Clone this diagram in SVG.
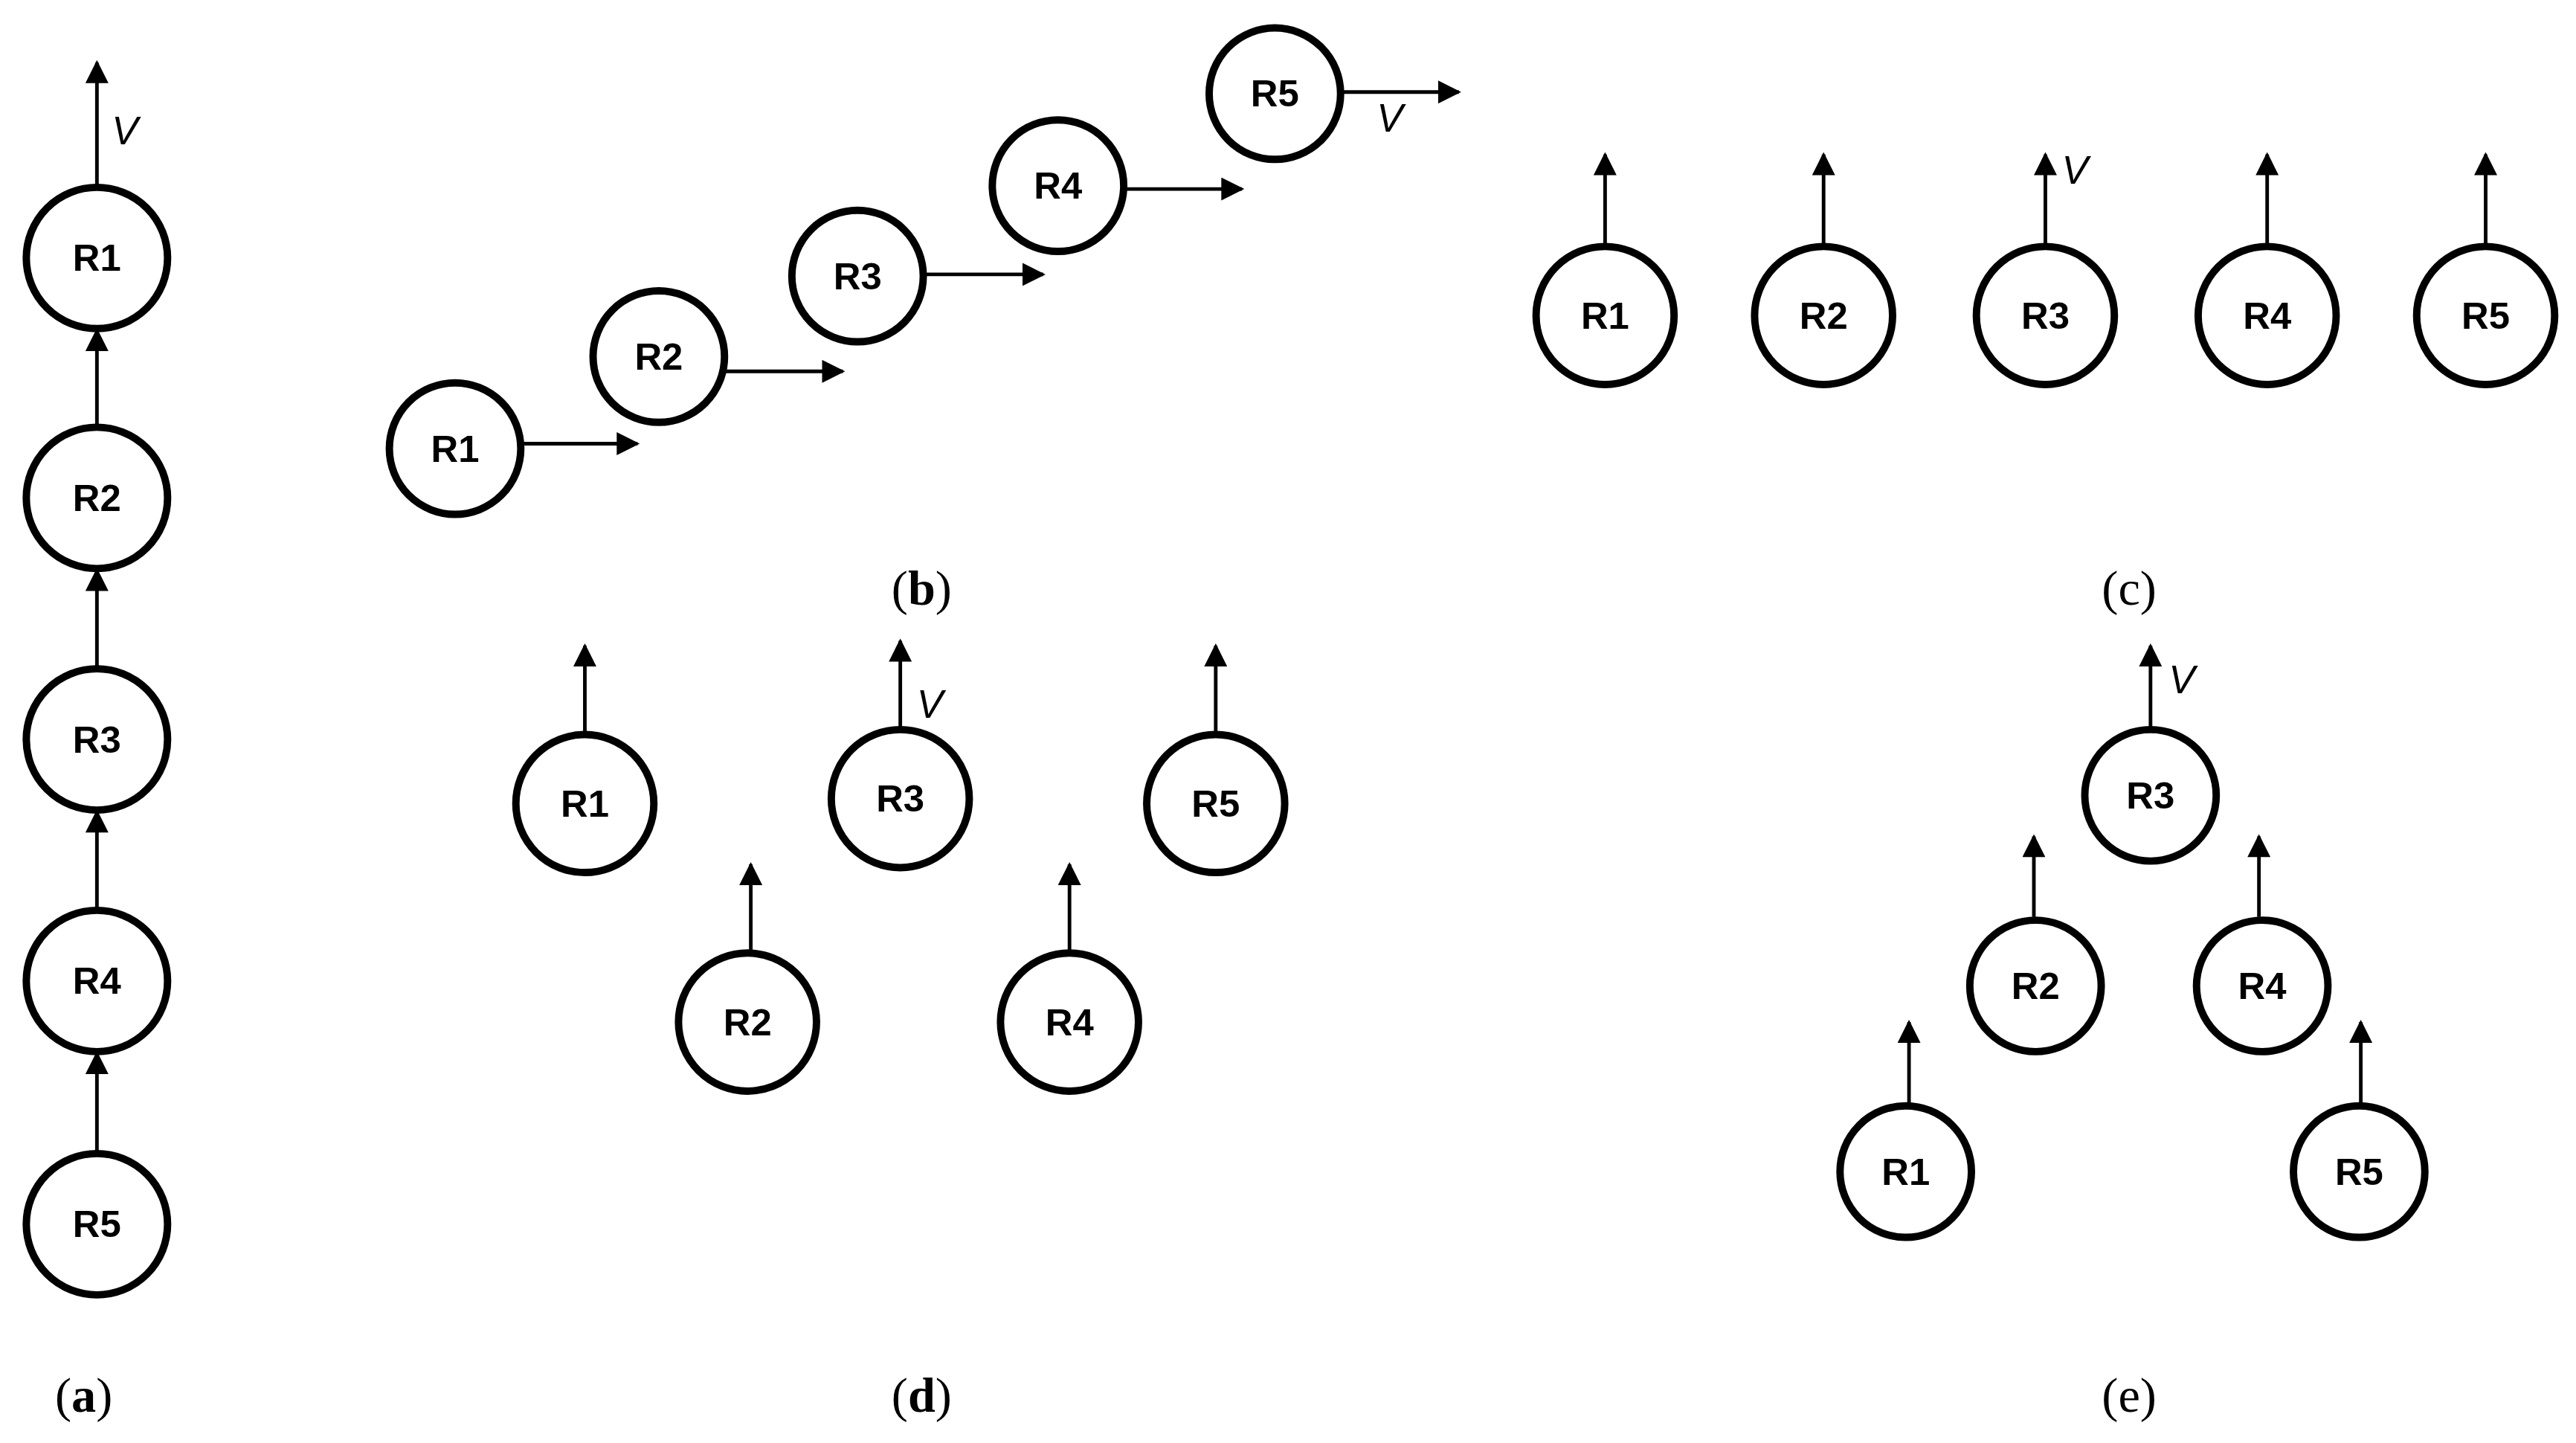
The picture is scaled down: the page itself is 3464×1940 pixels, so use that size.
<svg xmlns="http://www.w3.org/2000/svg" width="3464" height="1940" viewBox="0 0 3464 1940">
<style>
.n circle{fill:#fff;stroke:#000;stroke-width:4.5}
.n text{font-family:"Liberation Sans",Arial,sans-serif;font-weight:bold;font-size:23px;text-anchor:middle;dominant-baseline:central}
.c line{stroke:#000;stroke-width:2.2;marker-end:url(#ah)}
.v{font-family:"Liberation Sans",Arial,sans-serif;font-style:italic;font-size:24px}
.lb{font-family:"Liberation Serif","Times New Roman",serif;font-size:30px;text-anchor:middle}
</style>
<defs><marker id="ah" markerWidth="8" markerHeight="8" refX="7" refY="4" orient="auto" markerUnits="userSpaceOnUse" viewBox="0 0 8 8"><path d="M0,0L8,4L0,8z" fill="#000"/></marker>
<marker id="ah2" viewBox="0 0 10 10" refX="9" refY="5" markerWidth="16" markerHeight="14" orient="auto" markerUnits="userSpaceOnUse"><path d="M0,0L10,5L0,10z"/></marker></defs>
<rect width="3464" height="1940" fill="#fff"/>
<g transform="scale(2.2092)">
<g class="c" id="connectors" style="--x:0">
<g style="marker-end:none">
<line x1="59" y1="113" x2="59" y2="38" style="marker-end:url(#ah2)"/>
<line x1="59" y1="260" x2="59" y2="201" style="marker-end:url(#ah2)"/>
<line x1="59" y1="407" x2="59" y2="347" style="marker-end:url(#ah2)"/>
<line x1="59" y1="554" x2="59" y2="494" style="marker-end:url(#ah2)"/>
<line x1="59" y1="702" x2="59" y2="641" style="marker-end:url(#ah2)"/>
<line x1="317" y1="270" x2="388" y2="270" style="marker-end:url(#ah2)"/>
<line x1="441" y1="226" x2="513" y2="226" style="marker-end:url(#ah2)"/>
<line x1="562" y1="167" x2="635" y2="167" style="marker-end:url(#ah2)"/>
<line x1="684" y1="115" x2="756" y2="115" style="marker-end:url(#ah2)"/>
<line x1="816" y1="56" x2="888" y2="56" style="marker-end:url(#ah2)"/>
<line x1="977" y1="150" x2="977" y2="94" style="marker-end:url(#ah2)"/>
<line x1="1110" y1="150" x2="1110" y2="94" style="marker-end:url(#ah2)"/>
<line x1="1245" y1="150" x2="1245" y2="94" style="marker-end:url(#ah2)"/>
<line x1="1380" y1="150" x2="1380" y2="94" style="marker-end:url(#ah2)"/>
<line x1="1513" y1="150" x2="1513" y2="94" style="marker-end:url(#ah2)"/>
<line x1="356" y1="447" x2="356" y2="393" style="marker-end:url(#ah2)"/>
<line x1="548" y1="444" x2="548" y2="390" style="marker-end:url(#ah2)"/>
<line x1="740" y1="447" x2="740" y2="393" style="marker-end:url(#ah2)"/>
<line x1="457" y1="580" x2="457" y2="526" style="marker-end:url(#ah2)"/>
<line x1="651" y1="580" x2="651" y2="526" style="marker-end:url(#ah2)"/>
<line x1="1309" y1="443" x2="1309" y2="393" style="marker-end:url(#ah2)"/>
<line x1="1238" y1="558" x2="1238" y2="509" style="marker-end:url(#ah2)"/>
<line x1="1375" y1="558" x2="1375" y2="509" style="marker-end:url(#ah2)"/>
<line x1="1162" y1="672" x2="1162" y2="622" style="marker-end:url(#ah2)"/>
<line x1="1437" y1="672" x2="1437" y2="622" style="marker-end:url(#ah2)"/>
</g>
</g>
<g class="n" id="a1"><circle cx="59" cy="157" r="43"/><text x="59" y="157">R1</text></g>
<g class="n" id="a2"><circle cx="59" cy="303" r="43"/><text x="59" y="303">R2</text></g>
<g class="n" id="a3"><circle cx="59" cy="450" r="43"/><text x="59" y="450">R3</text></g>
<g class="n" id="a4"><circle cx="59" cy="597" r="43"/><text x="59" y="597">R4</text></g>
<g class="n" id="a5"><circle cx="59" cy="745" r="43"/><text x="59" y="745">R5</text></g>
<g class="n" id="b1"><circle cx="277" cy="273" r="40"/><text x="277" y="273">R1</text></g>
<g class="n" id="b2"><circle cx="401" cy="217" r="40"/><text x="401" y="217">R2</text></g>
<g class="n" id="b3"><circle cx="522" cy="168" r="40"/><text x="522" y="168">R3</text></g>
<g class="n" id="b4"><circle cx="644" cy="113" r="40"/><text x="644" y="113">R4</text></g>
<g class="n" id="b5"><circle cx="776" cy="57" r="40"/><text x="776" y="57">R5</text></g>
<g class="n" id="c1"><circle cx="977" cy="192" r="42"/><text x="977" y="192">R1</text></g>
<g class="n" id="c2"><circle cx="1110" cy="192" r="42"/><text x="1110" y="192">R2</text></g>
<g class="n" id="c3"><circle cx="1245" cy="192" r="42"/><text x="1245" y="192">R3</text></g>
<g class="n" id="c4"><circle cx="1380" cy="192" r="42"/><text x="1380" y="192">R4</text></g>
<g class="n" id="c5"><circle cx="1513" cy="192" r="42"/><text x="1513" y="192">R5</text></g>
<g class="n" id="d1"><circle cx="356" cy="489" r="42"/><text x="356" y="489">R1</text></g>
<g class="n" id="d3"><circle cx="548" cy="486" r="42"/><text x="548" y="486">R3</text></g>
<g class="n" id="d5"><circle cx="740" cy="489" r="42"/><text x="740" y="489">R5</text></g>
<g class="n" id="d2"><circle cx="455" cy="622" r="42"/><text x="455" y="622">R2</text></g>
<g class="n" id="d4"><circle cx="651" cy="622" r="42"/><text x="651" y="622">R4</text></g>
<g class="n" id="e3"><circle cx="1309" cy="484" r="40"/><text x="1309" y="484">R3</text></g>
<g class="n" id="e2"><circle cx="1239" cy="600" r="40"/><text x="1239" y="600">R2</text></g>
<g class="n" id="e4"><circle cx="1377" cy="600" r="40"/><text x="1377" y="600">R4</text></g>
<g class="n" id="e1"><circle cx="1160" cy="713" r="40"/><text x="1160" y="713">R1</text></g>
<g class="n" id="e5"><circle cx="1436" cy="713" r="40"/><text x="1436" y="713">R5</text></g>
<text class="v" x="68" y="88">V</text>
<text class="v" x="838" y="80">V</text>
<text class="v" x="1255" y="112">V</text>
<text class="v" x="558" y="437">V</text>
<text class="v" x="1320" y="422">V</text>
<text class="lb" x="561" y="368">(<tspan font-weight="bold">b</tspan>)</text>
<text class="lb" x="1296" y="368">(<tspan>c</tspan>)</text>
<text class="lb" x="51" y="859">(<tspan font-weight="bold">a</tspan>)</text>
<text class="lb" x="561" y="859">(<tspan font-weight="bold">d</tspan>)</text>
<text class="lb" x="1296" y="859">(<tspan>e</tspan>)</text>
</g>
</svg>
